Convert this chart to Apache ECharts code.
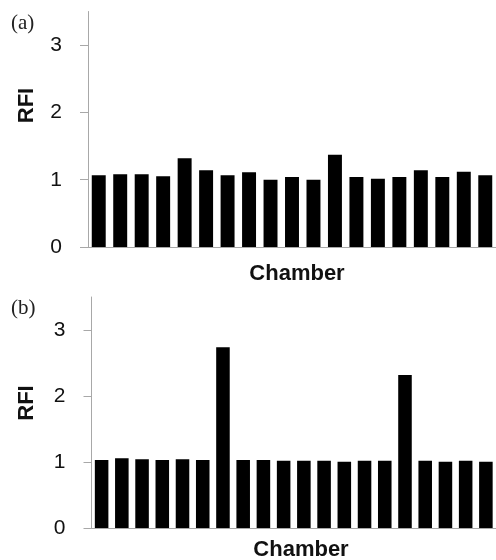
<!DOCTYPE html>
<html>
<head>
<meta charset="utf-8">
<script src="https://cdn.jsdelivr.net/npm/echarts@6/dist/echarts.min.js"></script>
<style>html,body{margin:0;padding:0;background:#fff}#c{width:496px;height:560px}</style>
</head>
<body>
<div id="c"></div>
<script>
var chambersA = ['1','2','3','4','5','6','7','8','9','10','11','12','13','14','15','16','17','18','19'];
var rfiA = [1.065,1.08,1.08,1.05,1.32,1.14,1.065,1.11,1.00,1.04,1.00,1.37,1.04,1.015,1.04,1.14,1.04,1.12,1.065];
var chambersB = ['1','2','3','4','5','6','7','8','9','10','11','12','13','14','15','16','17','18','19','20'];
var rfiB = [1.03,1.055,1.04,1.03,1.04,1.03,2.74,1.03,1.03,1.02,1.02,1.02,1.005,1.02,1.02,2.32,1.02,1.005,1.02,1.005];
var yTicks = [0,1,2,3];

var axisGray = '#a8a8a8';
var sans = '"Liberation Sans", Arial, sans-serif';

function yAx(idx) {
  return {
    type: 'value', gridIndex: idx, min: 0, max: 3.5, interval: 1,
    splitLine: {show: false},
    axisLine: {show: true, lineStyle: {color: axisGray, width: 1}},
    axisTick: {show: true, length: 8, customValues: yTicks, lineStyle: {color: axisGray, width: 1}},
    axisLabel: {show: true, customValues: yTicks, margin: 26, color: '#111', fontSize: 21, fontFamily: sans}
  };
}
function xAx(idx, cats) {
  return {
    type: 'category', gridIndex: idx, data: cats,
    axisLine: {show: true, lineStyle: {color: axisGray, width: 1}},
    axisTick: {show: false}, axisLabel: {show: false}
  };
}

var chart = echarts.init(document.getElementById('c'), null, {renderer: 'canvas'});
chart.setOption({
  animation: false,
  backgroundColor: '#fff',
  grid: [
    {left: 88, top: 11.5, width: 408.5, height: 235.5},
    {left: 91.5, top: 297, width: 410, height: 231}
  ],
  xAxis: [xAx(0, chambersA), xAx(1, chambersB)],
  yAxis: [yAx(0), yAx(1)],
  series: [
    {type: 'bar', xAxisIndex: 0, yAxisIndex: 0, data: rfiA, barCategoryGap: '35%', itemStyle: {color: '#000'}},
    {type: 'bar', xAxisIndex: 1, yAxisIndex: 1, data: rfiB, barCategoryGap: '33%', itemStyle: {color: '#000'}}
  ],
  graphic: [
    {type: 'text', left: 11, top: 13, style: {text: '(a)', font: '21px "Liberation Serif", "Times New Roman", serif', fill: '#222'}},
    {type: 'text', left: 11, top: 298, style: {text: '(b)', font: '21px "Liberation Serif", "Times New Roman", serif', fill: '#222'}},
    {type: 'text', x: 27, y: 105.5, rotation: Math.PI / 2, style: {text: 'RFI', font: 'bold 22px "Liberation Sans", Arial, sans-serif', fill: '#111', align: 'center', verticalAlign: 'middle'}},
    {type: 'text', x: 27, y: 403, rotation: Math.PI / 2, style: {text: 'RFI', font: 'bold 22px "Liberation Sans", Arial, sans-serif', fill: '#111', align: 'center', verticalAlign: 'middle'}},
    {type: 'text', x: 297, y: 274, style: {text: 'Chamber', font: 'bold 22px "Liberation Sans", Arial, sans-serif', fill: '#111', align: 'center', verticalAlign: 'middle'}},
    {type: 'text', x: 301, y: 550, style: {text: 'Chamber', font: 'bold 22px "Liberation Sans", Arial, sans-serif', fill: '#111', align: 'center', verticalAlign: 'middle'}}
  ]
});
</script>
</body>
</html>
